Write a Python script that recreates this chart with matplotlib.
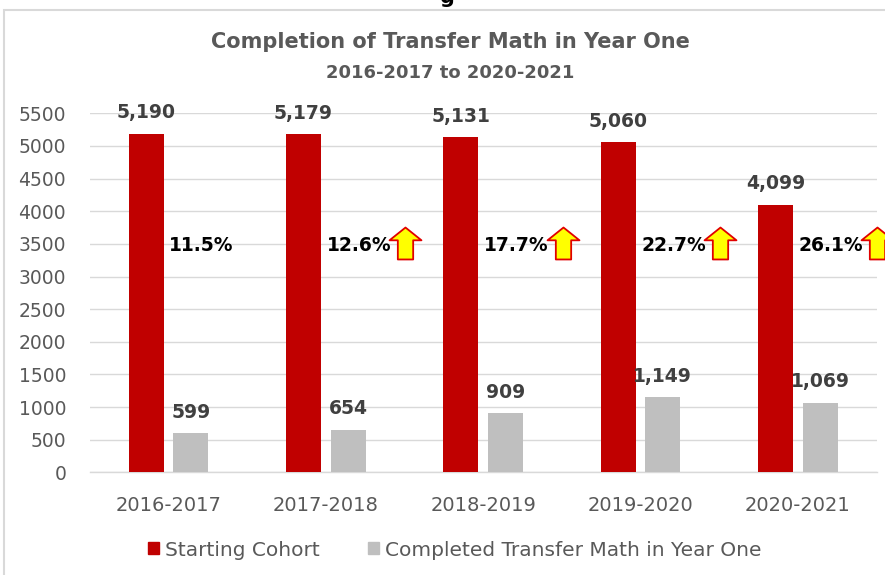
import numpy as np
import matplotlib.pyplot as plt
from matplotlib.patches import Patch, Rectangle
from matplotlib.path import Path

years = ["2016-2017", "2017-2018", "2018-2019", "2019-2020", "2020-2021"]
cohort = [5190, 5179, 5131, 5060, 4099]
completed = [599, 654, 909, 1149, 1069]
show_arrow = [False, True, True, True, True]

red = "#C00000"
grey = "#BFBFBF"
txt = "#595959"
lbl = "#404040"

fig = plt.figure(figsize=(8.85, 5.75), dpi=100)
ax = fig.add_axes([0.1014, 0.1786, 0.889, 0.6243])

x = np.arange(len(years))
w = 0.222
off = 0.142
ax.bar(x - off, cohort, w, color=red, zorder=3)
ax.bar(x + off, completed, w, color=grey, zorder=3)

ax.set_xlim(-0.5, len(years) - 0.5)
ax.set_ylim(0, 5500)
ax.set_yticks(range(0, 5501, 500))
ax.set_xticks(x)
ax.set_xticklabels(years)
ax.tick_params(axis="y", length=0, pad=17, labelsize=13.5, labelcolor=txt)
ax.tick_params(axis="x", length=0, pad=17, labelsize=14, labelcolor=txt)
ax.grid(axis="y", color="#d9d9d9", lw=1, zorder=0)
ax.axhline(0, color="#d9d9d9", lw=1, zorder=1, clip_on=False)
for s in ax.spines.values():
    s.set_visible(False)

# value labels above bars
for xi, v in zip(x - off, cohort):
    ax.annotate(f"{v:,}", (xi, v), xytext=(0, 11), textcoords="offset points",
                ha="center", va="baseline", fontsize=13.5, fontweight="bold",
                color=lbl, annotation_clip=False)
for xi, v in zip(x + off, completed):
    ax.annotate(f"{v:,}", (xi, v), xytext=(0, 11), textcoords="offset points",
                ha="center", va="baseline", fontsize=13.5, fontweight="bold",
                color=lbl, annotation_clip=False)

# completion rate text + up arrows
arrow = Path([(-0.5, 0.1), (0, 0.5), (0.5, 0.1), (0.24, 0.1), (0.24, -0.5),
              (-0.24, -0.5), (-0.24, 0.1), (-0.5, 0.1)], closed=True)
for i, (c, d) in enumerate(zip(cohort, completed)):
    ax.text(i + 0.005, 3480, f"{d / c * 100:.1f}%", ha="left", va="center",
            fontsize=13.5, fontweight="bold", color="black", zorder=5)
    if show_arrow[i]:
        ax.plot(i + 0.506, 3520, marker=arrow, markersize=23,
                mfc="#FFFF00", mec="#E00000", mew=1.3, clip_on=False, zorder=5)

fig.text(450 / 885, 1 - 42 / 575, "Completion of Transfer Math in Year One",
         ha="center", va="center", fontsize=15, fontweight="bold", color=txt)
fig.text(450 / 885, 1 - 73 / 575, "2016-2017 to 2020-2021",
         ha="center", va="center", fontsize=13, fontweight="bold", color=txt)
fig.text(447 / 885, 1 - 3 / 575, "g", ha="center", va="baseline",
         fontsize=15, fontweight="bold", color="black")

handles = [Patch(color=red, label="Starting Cohort"),
           Patch(color=grey, label="Completed Transfer Math in Year One")]
fig.legend(handles=handles, loc="center", bbox_to_anchor=(455 / 885, 1 - 550 / 575),
           ncol=2, frameon=False, fontsize=14.5, handlelength=0.55, handleheight=0.55,
           handletextpad=0.3, columnspacing=2.4, labelcolor=txt)

fig.patches.append(Rectangle((4 / 885, -0.1), 1.2, 1.1 - 10 / 575, transform=fig.transFigure,
                             fill=False, edgecolor="#d9d9d9", lw=1.5))

fig.savefig("out.png", dpi=100)
